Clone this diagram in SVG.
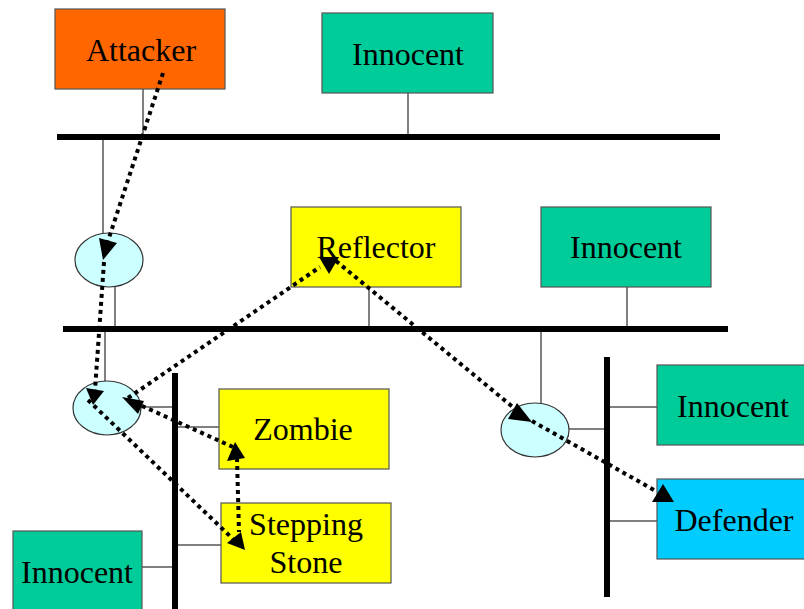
<svg xmlns="http://www.w3.org/2000/svg" width="804" height="609" viewBox="0 0 804 609">
<style>
.box{stroke:#555;stroke-width:1.2}
.lbl{font-family:"Liberation Serif","Times New Roman",serif;font-size:32px;fill:#000;text-anchor:middle}
.wire{stroke:#808080;stroke-width:2;fill:none}
.bus{stroke:#000;stroke-width:6;fill:none}
.rt{fill:#CCFFFF;stroke:#333;stroke-width:1.2}
.flow{stroke:#000;stroke-width:4;stroke-dasharray:4 4;fill:none}
.head{fill:#000}
</style>
<rect width="804" height="609" fill="#fff"/>
<g id="wires">
<line class="wire" x1="143" y1="89" x2="143" y2="137"/>
<line class="wire" x1="408" y1="93" x2="408" y2="137"/>
<line class="wire" x1="103" y1="137" x2="103" y2="233"/>
<line class="wire" x1="115" y1="286" x2="115" y2="329"/>
<line class="wire" x1="369" y1="287" x2="369" y2="329"/>
<line class="wire" x1="627" y1="287" x2="627" y2="329"/>
<line class="wire" x1="105" y1="329" x2="105" y2="381"/>
<line class="wire" x1="141" y1="407" x2="175" y2="407"/>
<line class="wire" x1="175" y1="427" x2="219" y2="427"/>
<line class="wire" x1="175" y1="545" x2="221" y2="545"/>
<line class="wire" x1="142" y1="567" x2="175" y2="567"/>
<line class="wire" x1="541" y1="329" x2="541" y2="403"/>
<line class="wire" x1="569" y1="429" x2="607" y2="429"/>
<line class="wire" x1="607" y1="407" x2="657" y2="407"/>
<line class="wire" x1="607" y1="521" x2="657" y2="521"/>
</g>
<g id="buses">
<line class="bus" x1="57" y1="137" x2="720" y2="137"/>
<line class="bus" x1="63" y1="329" x2="728" y2="329"/>
<line class="bus" x1="175" y1="373" x2="175" y2="609"/>
<line class="bus" x1="607" y1="357" x2="607" y2="597"/>
</g>
<g id="attacker"><rect class="box" x="55" y="9" width="170" height="80" fill="#FF6600"/><text class="lbl" x="141" y="61">Attacker</text></g>
<g id="innocent-top"><rect class="box" x="322" y="13" width="171" height="80" fill="#00CC99"/><text class="lbl" x="408" y="65">Innocent</text></g>
<g id="router1"><ellipse class="rt" cx="109" cy="260" rx="34" ry="27"/></g>
<g id="reflector"><rect class="box" x="291" y="207" width="170" height="80" fill="#FFFF00"/><text class="lbl" x="376" y="258">Reflector</text></g>
<g id="innocent-mid"><rect class="box" x="541" y="207" width="170" height="80" fill="#00CC99"/><text class="lbl" x="626" y="258">Innocent</text></g>
<g id="router2"><ellipse class="rt" cx="107" cy="408" rx="34" ry="27"/></g>
<g id="zombie"><rect class="box" x="219" y="389" width="170" height="80" fill="#FFFF00"/><text class="lbl" x="303" y="440">Zombie</text></g>
<g id="stepping-stone"><rect class="box" x="221" y="503" width="170" height="80" fill="#FFFF00"/><text class="lbl" x="306" y="535">Stepping</text><text class="lbl" x="306" y="573">Stone</text></g>
<g id="innocent-bottom"><rect class="box" x="13" y="531" width="129" height="82" fill="#00CC99"/><text class="lbl" x="77" y="583">Innocent</text></g>
<g id="router3"><ellipse class="rt" cx="535" cy="430" rx="34" ry="27"/></g>
<g id="innocent-right"><rect class="box" x="657" y="365" width="170" height="80" fill="#00CC99"/><text class="lbl" x="733" y="417">Innocent</text></g>
<g id="defender"><rect class="box" x="657" y="479" width="170" height="80" fill="#00CCFF"/><text class="lbl" x="734" y="531">Defender</text></g>
<g id="connectors">
<line class="flow" x1="163" y1="73" x2="107" y2="244"/>
<polygon class="head" points="99,238 117,243 103,260"/>
<line class="flow" x1="104" y1="262" x2="95" y2="390"/>
<polygon class="head" points="86,388 104,391 93,405"/>
<line class="flow" x1="128" y1="398" x2="320" y2="267"/>
<polygon class="head" points="319,257 339,257 329,274"/>
<line class="flow" x1="336" y1="261" x2="514" y2="408"/>
<polygon class="head" points="517,403 508,419 532,422"/>
<line class="flow" x1="532" y1="421" x2="654" y2="490"/>
<polygon class="head" points="663,484 652,502 674,502"/>
<line class="flow" x1="233" y1="447" x2="140" y2="405"/>
<polygon class="head" points="122,397 144,401 138,414"/>
<line class="flow" x1="88" y1="400" x2="233" y2="539"/>
<polygon class="head" points="227,543 241,532 245,550"/>
<line class="flow" x1="237" y1="458" x2="239" y2="532"/>
<polygon class="head" points="235,442 227,461 245,458"/>
</g>
</svg>
